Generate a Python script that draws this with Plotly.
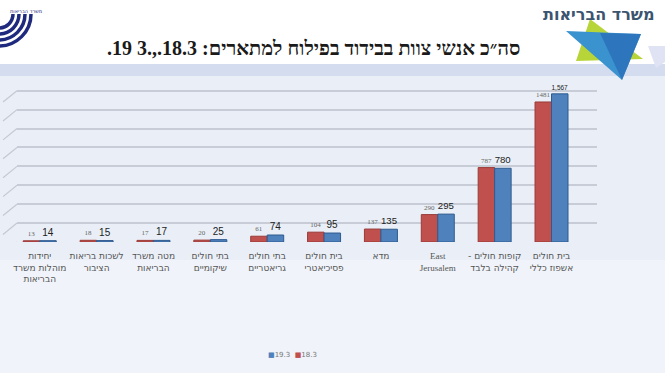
import plotly.graph_objects as go

categories = [
    "יחידות<br>מוהלות משרד<br>הבריאות",
    "לשכות בריאות<br>הציבור",
    "מטה משרד<br>הבריאות",
    "בתי חולים<br>שיקומיים",
    "בתי חולים<br>גריאטריים",
    "בית חולים<br>פסיכיאטרי",
    "מדא",
    "<span style='font-family:Liberation Serif'>East<br>Jerusalem</span>",
    "- קופות חולים<br>קהילה בלבד",
    "בית חולים<br>אשפוז כללי",
]
values_18_3 = [13, 18, 17, 20, 61, 104, 137, 290, 787, 1481]
values_19_3 = [14, 15, 17, 25, 74, 95, 135, 295, 780, 1567]
series_names = ["18.3", "19.3"]
colors = ["#c0504d", "#4f81bd"]

W, H = 665, 373
L, R, T, B = 17, 68, 86, 131
PW, PH = W - L - R, H - T - B


def xp(px):
    return (px - L) / PW


def yp(py):
    return (H - B - py) / PH


fig = go.Figure()
fig.add_trace(go.Bar(
    x=list(range(len(categories))), y=values_18_3, name=series_names[0],
    marker=dict(color=colors[0], line=dict(color="#9a3b38", width=1)),
    text=values_18_3, texttemplate="%{y}", textposition="outside",
    textfont=dict(size=7, color="#666666", family="Liberation Serif"),
    cliponaxis=False, showlegend=False,
))
fig.add_trace(go.Bar(
    x=list(range(len(categories))), y=values_19_3, name=series_names[1],
    marker=dict(color=colors[1], line=dict(color="#2f5b8f", width=1)),
    text=values_19_3, texttemplate="%{y:,}", textposition="outside",
    textfont=dict(size=10, color="#222222", family="Liberation Sans"),
    cliponaxis=False, showlegend=False,
))

shapes = []
shapes.append(dict(type="rect", xref="paper", yref="paper", x0=xp(0), x1=xp(W),
                   y0=yp(64), y1=yp(0), fillcolor="white", line=dict(width=0), layer="below"))
shapes.append(dict(type="rect", xref="paper", yref="paper", x0=xp(0), x1=xp(W),
                   y0=yp(76), y1=yp(64), fillcolor="#d3ddef", line=dict(width=0), layer="below"))
shapes.append(dict(type="rect", xref="paper", yref="paper", x0=xp(0), x1=xp(W),
                   y0=yp(H), y1=yp(260), fillcolor="#f0f3f9", line=dict(width=0), layer="below"))
# logo
shapes.append(dict(type="path", xref="paper", yref="paper",
                   path=f"M {xp(590)},{yp(19)} L {xp(643)},{yp(59)} L {xp(576)},{yp(61)} Z",
                   fillcolor="#b7d438", line=dict(width=0)))
shapes.append(dict(type="path", xref="paper", yref="paper",
                   path=f"M {xp(566)},{yp(31)} L {xp(641)},{yp(34)} L {xp(622)},{yp(80)} Z",
                   fillcolor="#3a92cf", line=dict(width=0)))
shapes.append(dict(type="path", xref="paper", yref="paper",
                   path=f"M {xp(600)},{yp(33)} L {xp(641)},{yp(34)} L {xp(622)},{yp(80)} Z",
                   fillcolor="#2a6fb8", line=dict(width=0), opacity=0.8))
shapes.append(dict(type="path", xref="paper", yref="paper",
                   path=f"M {xp(648)},{yp(46)} L {xp(665)},{yp(46)} L {xp(665)},{yp(62)} L {xp(656)},{yp(68)} Z",
                   fillcolor="#dfe3f3", line=dict(width=0)))
# emblem arcs
k = 0.5523
for r in [32, 26, 20, 14]:
    cx, cy = -1, 14
    path = (f"M {xp(cx + r)},{yp(cy)} C {xp(cx + r)},{yp(cy + k * r)} "
            f"{xp(cx + k * r)},{yp(cy + r)} {xp(cx)},{yp(cy + r)}")
    shapes.append(dict(type="path", xref="paper", yref="paper", path=path,
                       line=dict(color="#1f2a7e", width=3.5)))
# perspective ticks
for v in range(0, 1601, 200):
    shapes.append(dict(type="line", xref="paper", yref="y",
                       x0=xp(3), x1=xp(L), y0=v - 120, y1=v,
                       line=dict(color="#c4c8d2", width=1.2)))

legend_text = (f"<span style='color:{colors[1]}'>■</span>{series_names[1]}  "
               f"<span style='color:{colors[0]}'>■</span>{series_names[0]}")

annotations = [
    dict(text="<b>\u202bסה״כ אנשי צוות בבידוד בפילוח למתארים: 18.3.,.3 19.\u202c</b>",
         xref="paper", yref="paper", x=xp(313), y=yp(48), showarrow=False,
         font=dict(size=20, color="#1a1a1a", family="Liberation Serif"),
         xanchor="center", yanchor="middle"),
    dict(text="<b>משרד הבריאות</b>", xref="paper", yref="paper", x=xp(656), y=yp(14),
         showarrow=False, font=dict(size=16, color="#3b5470", family="DejaVu Sans"),
         xanchor="right", yanchor="middle"),
    dict(text="משרד הבריאות", xref="paper", yref="paper", x=xp(44), y=yp(11),
         showarrow=False, font=dict(size=5, color="#1f2a7e", family="DejaVu Sans"),
         xanchor="right", yanchor="middle"),
    dict(text=legend_text, xref="paper", yref="paper", x=xp(292), y=yp(355),
         showarrow=False, font=dict(size=7, color="#777777", family="DejaVu Sans"),
         xanchor="center", yanchor="middle"),
]

fig.update_layout(
    width=W, height=H,
    margin=dict(l=L, r=R, t=T, b=B),
    paper_bgcolor="#eaeff7",
    plot_bgcolor="rgba(0,0,0,0)",
    barmode="group", bargap=0.42, bargroupgap=0,
    showlegend=False,
    xaxis=dict(tickmode="array", tickvals=list(range(len(categories))), ticktext=categories,
               range=[-0.4, 9.8], showgrid=False, zeroline=False, showline=False,
               tickangle=0, tickfont=dict(size=9, color="#555555", family="DejaVu Sans"),
               ticks="", ticklabelstandoff=7),
    yaxis=dict(range=[0, 1650], dtick=200, showticklabels=False, showgrid=True,
               gridcolor="#c8ccd6", gridwidth=1.5, zeroline=False, showline=False),
    shapes=shapes,
    annotations=annotations,
    font=dict(family="DejaVu Sans"),
)

fig.write_html("out.html", config={"displayModeBar": False},
               post_script="document.body.style.margin='0px';")
